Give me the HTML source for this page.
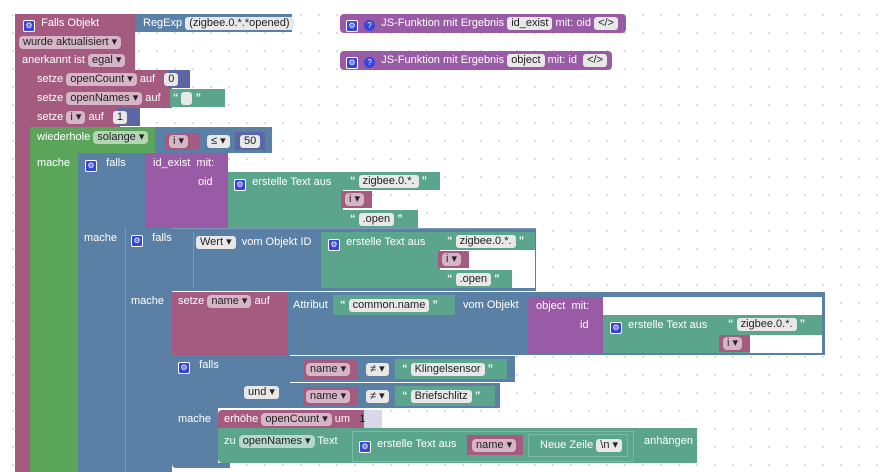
<!DOCTYPE html><html><head><meta charset="utf-8"><style>
body{margin:0;width:887px;height:472px;overflow:hidden;background:#fff;background-image:radial-gradient(#d6d6d6 0.8px,transparent 1.2px);background-size:18px 18px;background-position:4px 6px;font-family:"Liberation Sans",Arial,sans-serif;font-size:11px;color:#fff;position:relative}
.b{position:absolute}
.t{position:absolute;white-space:nowrap;line-height:12px}
.pk{background:#a55b80}.gr{background:#5ba55b}.bl{background:#5b80a5}.tx{background:#5ba58c}.pu{background:#995ba5}.nu{background:#5b67a5}.wh{background:#fff}
.f{display:inline-block;padding:0 4px;border-radius:4px;background:rgba(255,255,255,.55);color:#222;line-height:13px}
.fw{display:inline-block;padding:0 4px;border-radius:3px;background:#e8e8e8;color:#222;line-height:13px}
.ic{display:inline-block;width:10px;height:10px;background:#3846d8;border:1px solid #fff;border-radius:2px;vertical-align:-2px;font-size:8px;line-height:10px;text-align:center;color:#fff}
.q{display:inline-block;width:11px;height:11px;background:#3846d8;border-radius:50%;font-size:8px;line-height:11px;text-align:center;vertical-align:-2px}
</style></head><body>
<div class="b pk" style="left:15px;top:14px;width:120px;height:56px;border-radius:4px 0 0 0"></div>
<div class="b pk" style="left:15px;top:14px;width:15px;height:458px"></div>
<div class="t" style="left:23px;top:17px"><span class="ic">⚙</span>&nbsp; Falls Objekt</div>
<div class="t" style="left:19px;top:36px"><span class="f">wurde aktualisiert ▾</span></div>
<div class="t" style="left:22px;top:54px">anerkannt ist <span class="f">egal ▾</span></div>
<div class="b bl" style="left:135px;top:14px;width:157px;height:18px"></div>
<div class="t" style="left:143px;top:17px">RegExp <span class="fw">(zigbee.0.*.*opened)</span></div>
<div class="b pu" style="left:340px;top:14px;width:286px;height:19px;border-radius:4px"></div>
<div class="t" style="left:346px;top:17px"><span class="ic">⚙</span> &nbsp;<span class="q">?</span> &nbsp;JS-Funktion mit Ergebnis <span class="fw">id_exist</span> mit: oid <span class="fw">&lt;/&gt;</span></div>
<div class="b pu" style="left:340px;top:51px;width:272px;height:19px;border-radius:4px"></div>
<div class="t" style="left:346px;top:54px"><span class="ic">⚙</span> &nbsp;<span class="q">?</span> &nbsp;JS-Funktion mit Ergebnis <span class="fw">object</span> mit: id &nbsp;<span class="fw">&lt;/&gt;</span></div>
<div class="b pk" style="left:30px;top:70px;width:142px;height:19px"></div>
<div class="b nu" style="left:168px;top:70px;width:22px;height:18px"></div>
<div class="t" style="left:37px;top:73px">setze <span class="f">openCount ▾</span> auf &nbsp;&nbsp;<span class="fw">0</span></div>
<div class="b pk" style="left:30px;top:89px;width:142px;height:19px"></div>
<div class="b tx" style="left:170px;top:89px;width:55px;height:18px"></div>
<div class="t" style="left:37px;top:92px">setze <span class="f">openNames ▾</span> auf &nbsp;&nbsp;&nbsp;<b>“</b> <span class="fw">&nbsp;</span> <b>”</b></div>
<div class="b pk" style="left:30px;top:108px;width:90px;height:19px"></div>
<div class="b nu" style="left:118px;top:108px;width:22px;height:18px"></div>
<div class="t" style="left:37px;top:111px">setze <span class="f">i ▾</span> auf &nbsp;&nbsp;<span class="fw">1</span></div>
<div class="b gr" style="left:30px;top:127px;width:128px;height:26px"></div>
<div class="b gr" style="left:30px;top:127px;width:48px;height:345px"></div>
<div class="t" style="left:37px;top:131px">wiederhole <span class="f">solange ▾</span></div>
<div class="b bl" style="left:155px;top:127px;width:117px;height:26px"></div>
<div class="b pk" style="left:165px;top:133px;width:35px;height:17px"></div>
<div class="t" style="left:169px;top:135px"><span class="f">i ▾</span></div>
<div class="t" style="left:207px;top:135px"><span class="fw">≤ ▾</span></div>
<div class="b nu" style="left:235px;top:132px;width:30px;height:18px"></div>
<div class="t" style="left:240px;top:135px"><span class="fw">50</span></div>
<div class="t" style="left:37px;top:157px">mache</div>
<div class="b bl" style="left:78px;top:153px;width:67px;height:76px;border-radius:4px 0 0 0"></div>
<div class="b bl" style="left:78px;top:153px;width:47px;height:319px"></div>
<div class="t" style="left:85px;top:157px"><span class="ic">⚙</span> &nbsp;&nbsp;falls</div>
<div class="b pu" style="left:145px;top:153px;width:83px;height:75px"></div>
<div class="t" style="left:153px;top:157px">id_exist &nbsp;mit:</div>
<div class="t" style="left:198px;top:176px">oid</div>
<div class="b tx" style="left:228px;top:172px;width:115px;height:56px"></div>
<div class="t" style="left:234px;top:176px"><span class="ic">⚙</span> &nbsp;erstelle Text aus</div>
<div class="b tx" style="left:343px;top:172px;width:97px;height:18px"></div>
<div class="t" style="left:350px;top:175px"><b>“</b> <span class="fw">zigbee.0.*.</span> <b>”</b></div>
<div class="b pk" style="left:341px;top:191px;width:31px;height:17px"></div>
<div class="t" style="left:345px;top:193px"><span class="f">i ▾</span></div>
<div class="b tx" style="left:343px;top:210px;width:75px;height:18px"></div>
<div class="t" style="left:350px;top:213px"><b>“</b> <span class="fw">.open</span> <b>”</b></div>
<div class="t" style="left:84px;top:232px">mache</div>
<div class="b bl" style="left:125px;top:228px;width:410px;height:62px;border-top:1px solid #7a9ab8;border-left:1px solid #7a9ab8"></div>
<div class="b bl" style="left:125px;top:228px;width:46px;height:244px;border-left:1px solid #7a9ab8"></div>
<div class="b" style="left:193px;top:232px;width:1px;height:56px;background:#7a9ab8"></div>
<div class="t" style="left:131px;top:232px"><span class="ic">⚙</span> &nbsp;&nbsp;falls</div>
<div class="t" style="left:196px;top:236px"><span class="fw">Wert ▾</span> &nbsp;vom Objekt ID</div>
<div class="b tx" style="left:321px;top:232px;width:214px;height:56px"></div>
<div class="b wh" style="left:440px;top:250px;width:95px;height:38px"></div>
<div class="t" style="left:328px;top:236px"><span class="ic">⚙</span> &nbsp;erstelle Text aus</div>
<div class="b tx" style="left:440px;top:232px;width:92px;height:18px"></div>
<div class="t" style="left:447px;top:235px"><b>“</b> <span class="fw">zigbee.0.*.</span> <b>”</b></div>
<div class="b pk" style="left:438px;top:251px;width:31px;height:17px"></div>
<div class="t" style="left:442px;top:253px"><span class="f">i ▾</span></div>
<div class="b tx" style="left:440px;top:270px;width:72px;height:18px"></div>
<div class="t" style="left:447px;top:273px"><b>“</b> <span class="fw">.open</span> <b>”</b></div>
<div class="t" style="left:131px;top:295px">mache</div>
<div class="b pk" style="left:172px;top:292px;width:118px;height:63px"></div>
<div class="t" style="left:178px;top:295px">setze <span class="f">name ▾</span> auf</div>
<div class="b bl" style="left:288px;top:292px;width:537px;height:63px"></div>
<div class="b wh" style="left:603px;top:297px;width:219px;height:18px"></div>
<div class="t" style="left:293px;top:299px">Attribut</div>
<div class="b tx" style="left:333px;top:295px;width:122px;height:20px"></div>
<div class="t" style="left:340px;top:299px"><b>“</b> <span class="fw">common.name</span> <b>”</b></div>
<div class="t" style="left:463px;top:299px">vom Objekt</div>
<div class="b pu" style="left:528px;top:297px;width:75px;height:56px"></div>
<div class="t" style="left:536px;top:300px">object &nbsp;mit:</div>
<div class="t" style="left:580px;top:319px">id</div>
<div class="b tx" style="left:603px;top:315px;width:219px;height:38px"></div>
<div class="b wh" style="left:750px;top:335px;width:72px;height:18px"></div>
<div class="t" style="left:610px;top:319px"><span class="ic">⚙</span> &nbsp;erstelle Text aus</div>
<div class="t" style="left:728px;top:318px"><b>“</b> <span class="fw">zigbee.0.*.</span> <b>”</b></div>
<div class="b pk" style="left:719px;top:335px;width:31px;height:17px"></div>
<div class="t" style="left:723px;top:337px"><span class="f">i ▾</span></div>
<div class="b bl" style="left:172px;top:355px;width:118px;height:53px"></div>
<div class="b bl" style="left:172px;top:355px;width:46px;height:113px;border-radius:0 0 0 4px"></div>
<div class="b bl" style="left:218px;top:463px;width:12px;height:5px"></div>
<div class="t" style="left:178px;top:359px"><span class="ic">⚙</span> &nbsp;&nbsp;falls</div>
<div class="t" style="left:244px;top:386px"><span class="fw">und ▾</span></div>
<div class="b bl" style="left:290px;top:356px;width:225px;height:26px"></div>
<div class="b pk" style="left:303px;top:360px;width:55px;height:19px"></div>
<div class="t" style="left:306px;top:363px"><span class="f">name ▾</span></div>
<div class="t" style="left:366px;top:363px"><span class="fw">≠ ▾</span></div>
<div class="b tx" style="left:395px;top:359px;width:112px;height:20px"></div>
<div class="t" style="left:402px;top:363px"><b>“</b> <span class="fw">Klingelsensor</span> <b>”</b></div>
<div class="b bl" style="left:290px;top:383px;width:210px;height:25px"></div>
<div class="b pk" style="left:303px;top:387px;width:55px;height:19px"></div>
<div class="t" style="left:306px;top:390px"><span class="f">name ▾</span></div>
<div class="t" style="left:366px;top:390px"><span class="fw">≠ ▾</span></div>
<div class="b tx" style="left:395px;top:386px;width:100px;height:20px"></div>
<div class="t" style="left:402px;top:390px"><b>“</b> <span class="fw">Briefschlitz</span> <b>”</b></div>
<div class="t" style="left:178px;top:413px">mache</div>
<div class="b pk" style="left:218px;top:410px;width:147px;height:18px;border-radius:4px 0 0 0"></div>
<div class="b" style="left:364px;top:410px;width:18px;height:18px;background:#d8d8e8"></div>
<div class="t" style="left:224px;top:413px">erhöhe <span class="f">openCount ▾</span> um &nbsp;&nbsp;<span style="color:#222">1</span></div>
<div class="b tx" style="left:218px;top:428px;width:479px;height:35px;border-radius:0 0 0 4px"></div>
<div class="t" style="left:224px;top:435px">zu <span class="f">openNames ▾</span> Text</div>
<div class="b" style="left:352px;top:431px;width:280px;height:29px;border:1px solid #7cbca6;background:#5ba58c"></div>
<div class="t" style="left:359px;top:438px"><span class="ic">⚙</span> &nbsp;erstelle Text aus</div>
<div class="b pk" style="left:467px;top:435px;width:56px;height:20px"></div>
<div class="t" style="left:472px;top:439px"><span class="f">name ▾</span></div>
<div class="b" style="left:528px;top:434px;width:98px;height:21px;border:1px solid #7cbca6"></div>
<div class="t" style="left:540px;top:439px">Neue Zeile <span class="fw">\n ▾</span></div>
<div class="t" style="left:644px;top:435px">anhängen</div>
</body></html>
